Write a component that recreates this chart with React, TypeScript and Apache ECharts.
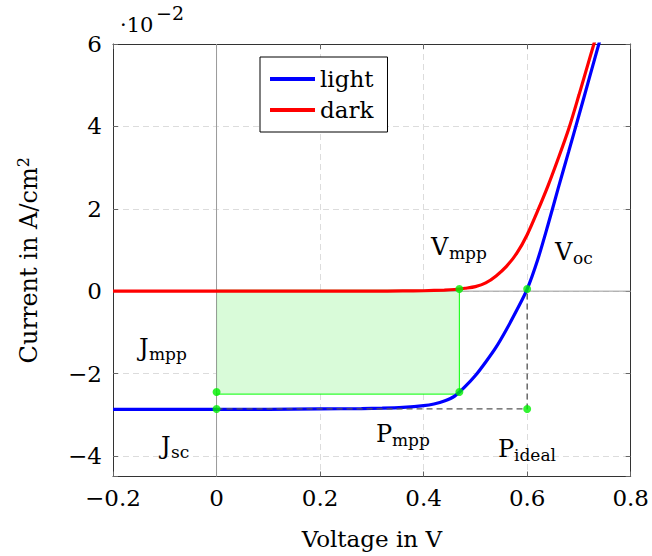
import React, { useEffect, useRef } from "react";
import * as echarts from "echarts";

// ---- data (voltage in V, current in 1e-2 A/cm^2) ----
const lightV = [-0.2, -0.1, 0, 0.1, 0.2, 0.28, 0.32, 0.36, 0.4, 0.42, 0.44, 0.46, 0.48, 0.5, 0.52, 0.54, 0.56, 0.58, 0.6, 0.62, 0.64, 0.66, 0.68, 0.7, 0.72, 0.74, 0.76];
const lightJ = [-2.87, -2.87, -2.87, -2.87, -2.86, -2.85, -2.84, -2.82, -2.78, -2.74, -2.67, -2.55, -2.32, -2.05, -1.72, -1.36, -0.93, -0.46, 0.05, 0.75, 1.6, 2.5, 3.38, 4.27, 5.17, 6.07, 6.97];
const darkV = [-0.2, -0.1, 0, 0.1, 0.2, 0.3, 0.36, 0.4, 0.44, 0.46, 0.48, 0.5, 0.52, 0.54, 0.56, 0.58, 0.6, 0.62, 0.64, 0.66, 0.68, 0.7, 0.72, 0.74, 0.76];
const darkJ = [0, 0, 0, 0, 0, 0, 0.005, 0.01, 0.025, 0.04, 0.07, 0.11, 0.2, 0.37, 0.6, 0.92, 1.37, 1.94, 2.55, 3.22, 3.93, 4.76, 5.62, 6.48, 7.35];

const keyV = [0.469, 0.469, 0, 0, 0.6, 0.6];
const keyJ = [0.05, -2.45, -2.45, -2.86, 0.05, -2.86];

const idealV = [0, 0.6, 0.6];
const idealJ = [-2.86, -2.86, 0.05];

const mppRectV = [0, 0.469];
const mppRectJ = [-2.5, 0.02];

const xRange = [-0.2, 0.8];
const yRange = [-4.5, 6];
const xStep = 0.2;

const seriesNames = ["light", "dark"];

const FONT = "'DejaVu Serif', serif";

const zip = (a: number[], b: number[]) => a.map((v, i) => [v, b[i]]);

const fmtNum = (v: number) => {
  const r = Math.round(v * 100) / 100;
  if (Math.abs(r) < 1e-9) return "0";
  return String(r).replace("-", "\u2212");
};

export default function App() {
  const ref = useRef<HTMLDivElement>(null);

  useEffect(() => {
    if (!ref.current) return;
    const chart = echarts.init(ref.current, null, { renderer: "svg" });

    const txt = (text: string, x: number, y: number, size: number) => ({
      type: "text",
      x,
      y,
      z: 100,
      style: {
        text,
        fill: "#000",
        font: `${size}px ${FONT}`,
        textAlign: "left",
        textVerticalAlign: "middle",
      },
    });

    const ann = (main: string, sub: string, x: number, base: number, subX: number) => [
      txt(main, x, base - 8.5, 24),
      txt(sub, subX, base + 4 - 6, 17),
    ];

    const tickStyle = { show: true, inside: true, length: 5, lineStyle: { color: "#666", width: 1 } };
    const split = {
      show: true,
      showMinLine: false,
      showMaxLine: false,
      lineStyle: { color: "#dcdcdc", type: [6, 4], width: 1 },
    };
    const frameLine = { show: true, onZero: false, lineStyle: { color: "#333", width: 1 } };

    const option: any = {
      animation: false,
      backgroundColor: "#fff",
      grid: {
        left: 113,
        right: 19,
        top: 44,
        bottom: 79.5,
        show: false,
      },
      legend: {
        data: seriesNames,
        orient: "vertical",
        left: 260,
        top: 57,
        icon: "rect",
        itemWidth: 45,
        itemHeight: 4,
        itemGap: 5,
        padding: [9, 14, 9, 10],
        borderColor: "#000",
        borderWidth: 1,
        backgroundColor: "#fff",
        textStyle: { fontFamily: FONT, fontSize: 23, color: "#000", lineHeight: 26 },
        selectedMode: false,
        z: 50,
      },
      xAxis: [
        {
          type: "value",
          min: xRange[0],
          max: xRange[1],
          interval: xStep,
          axisLine: frameLine,
          axisTick: tickStyle,
          splitLine: split,
          axisLabel: {
            margin: 10,
            fontFamily: FONT,
            fontSize: 23,
            color: "#000",
            formatter: (v: number) => fmtNum(v),
          },
          name: "Voltage in V",
          nameLocation: "middle",
          nameGap: 51,
          nameTextStyle: { fontFamily: FONT, fontSize: 23, color: "#000" },
        },
        {
          type: "value",
          position: "top",
          min: xRange[0],
          max: xRange[1],
          interval: xStep,
          axisLine: frameLine,
          axisTick: tickStyle,
          splitLine: { show: false },
          axisLabel: { show: false },
        },
      ],
      yAxis: [
        {
          type: "value",
          min: yRange[0],
          max: yRange[1],
          splitNumber: 5,
          axisLine: frameLine,
          axisTick: tickStyle,
          splitLine: split,
          axisLabel: {
            margin: 11,
            fontFamily: FONT,
            fontSize: 23,
            color: "#000",
            formatter: (v: number) => (Math.abs(v % 2) < 1e-9 ? fmtNum(v) : ""),
          },
          name: "Current in A/cm{sup|2}",
          nameLocation: "middle",
          nameGap: 70,
          nameRotate: 90,
          nameTextStyle: {
            fontFamily: FONT,
            fontSize: 24,
            color: "#000",
            rich: {
              sup: { fontFamily: FONT, fontSize: 16, color: "#000", padding: [0, 0, 12, 0] },
            },
          },
        },
        {
          type: "value",
          position: "right",
          min: yRange[0],
          max: yRange[1],
          splitNumber: 5,
          axisLine: frameLine,
          axisTick: tickStyle,
          splitLine: { show: false },
          axisLabel: { show: false },
        },
      ],
      series: [
        {
          type: "line",
          name: "mppArea",
          data: [],
          z: 1,
          silent: true,
          markArea: {
            silent: true,
            itemStyle: { color: "#d9fbd9", borderColor: "#00ff00", borderWidth: 1 },
            data: [
              [
                { coord: [mppRectV[0], mppRectJ[0]] },
                { coord: [mppRectV[1], mppRectJ[1]] },
              ],
            ],
          },
        },
        {
          type: "line",
          name: "zeroY",
          data: [[xRange[0], 0], [xRange[1], 0]],
          showSymbol: false,
          silent: true,
          z: 2,
          lineStyle: { color: "#9a9a9a", width: 1 },
        },
        {
          type: "line",
          name: "zeroX",
          data: [[0, yRange[0]], [0, yRange[1]]],
          showSymbol: false,
          silent: true,
          z: 2,
          lineStyle: { color: "#9a9a9a", width: 1 },
        },
        {
          type: "line",
          name: "light",
          data: zip(lightV, lightJ),
          showSymbol: false,
          smooth: 0.3,
          z: 3,
          itemStyle: { color: "#0000ff" },
          lineStyle: { color: "#0000ff", width: 3.2 },
        },
        {
          type: "line",
          name: "dark",
          data: zip(darkV, darkJ),
          showSymbol: false,
          smooth: 0.3,
          z: 3,
          itemStyle: { color: "#ff0000" },
          lineStyle: { color: "#ff0000", width: 3.2 },
        },
        {
          type: "line",
          name: "ideal",
          data: zip(idealV, idealJ),
          showSymbol: false,
          silent: true,
          z: 4,
          lineStyle: { color: "#555", width: 1.3, type: [6, 4] },
        },
        {
          type: "scatter",
          name: "points",
          data: zip(keyV, keyJ),
          symbolSize: 8,
          z: 5,
          itemStyle: { color: "#00f000" },
        },
      ],
      graphic: [
        txt("\u00b710", 120, 24.5, 21),
        txt("\u22122", 156, 13, 19),
        ...ann("V", "mpp", 431, 255, 449),
        ...ann("V", "oc", 555, 260, 573),
        ...ann("J", "mpp", 139, 356, 149),
        ...ann("J", "sc", 161, 454, 171),
        ...ann("P", "mpp", 376, 442, 392),
        ...ann("P", "ideal", 498, 457, 514),
      ],
    };

    chart.setOption(option);
    return () => chart.dispose();
  }, []);

  return (
    <div
      ref={ref}
      style={{ position: "fixed", left: 0, top: 0, width: 652, height: 556, background: "#fff" }}
    />
  );
}
